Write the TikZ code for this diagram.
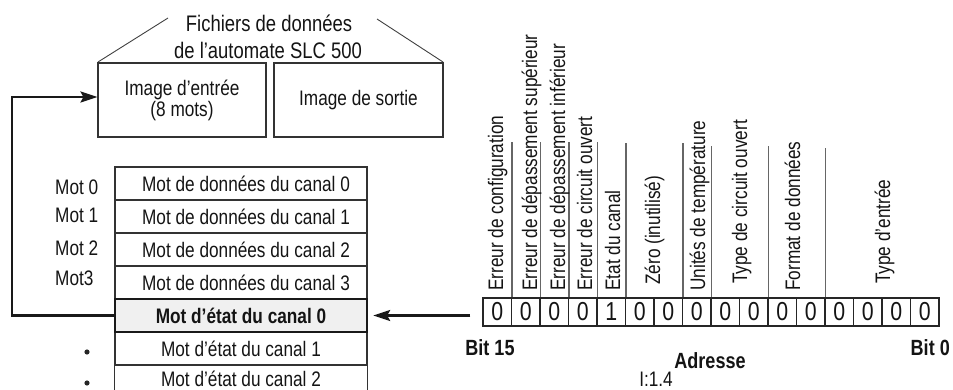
\documentclass[tikz,border=0pt]{standalone}
\usepackage{fontspec}
\setmainfont{Liberation Sans}[FakeStretch=0.82]
\usetikzlibrary{arrows.meta}
\begin{document}
\begin{tikzpicture}[x=1pt,y=-1pt,
  txt/.style={inner sep=0pt, text=black!92, font=\fontsize{21}{20}\selectfont},
  boxstyle/.style={draw=black!80, line width=1.1pt, inner sep=0pt, align=center,
     text=black!92, font=\fontsize{21}{21}\selectfont},
  rowstyle/.style={draw=black!80, line width=1.1pt, inner sep=0pt,
     minimum width=252pt, minimum height=33pt, text=black!92, font=\fontsize{21}{20}\selectfont},
  boldrow/.style={draw=black!90, line width=2.4pt, fill=gray!12, inner sep=0pt,
     minimum width=252pt, minimum height=33pt, text=black!92, font=\bfseries\fontsize{21}{20}\selectfont},
  cellstyle/.style={draw=black!85, line width=1.1pt, inner sep=0pt,
     minimum width=28.5pt, minimum height=28pt, text=black!92, font=\fontsize{26}{26}\selectfont},
  vlab/.style={rotate=90, anchor=base west, inner sep=0pt, text=black!92, font=\fontsize{21}{20}\selectfont},
  divider/.style={draw=black!60, line width=1.3pt},
  roof/.style={draw=black!75, line width=0.9pt},
  conn/.style={draw=black!90, line width=2.2pt},
  tip/.style={-{Stealth[length=17pt, width=11pt, inset=3pt]}},
  boldlab/.style={inner sep=0pt, text=black!92, font=\bfseries\fontsize{22}{22}\selectfont}
]
\useasboundingbox (0,0) rectangle (953,390);

% title and roof
\node[txt, anchor=base, font=\fontsize{22.5}{22}\selectfont] (t1) at (269,32) {Fichiers de données};
\node[txt, anchor=base, font=\fontsize{22.5}{22}\selectfont] (t2) at (268,59) {de l’automate SLC 500};
\coordinate (rl1) at (98,62);  \coordinate (rl2) at (168,18);
\coordinate (rr1) at (377,19); \coordinate (rr2) at (443,62);
\draw[roof] (rl1) -- (rl2);
\draw[roof] (rr1) -- (rr2);

% image boxes
\node[boxstyle, minimum width=168pt, minimum height=74pt] (in) at (182,100) {Image d’entrée\\(8 mots)};
\node[boxstyle, minimum width=169pt, minimum height=74pt] (out) at (358.5,100) {Image de sortie};

% table rows
\node[rowstyle] (r0) at (241,183.5) {\hspace{10pt}Mot de données du canal 0};
\node[rowstyle] (r1) at (241,216.5) {\hspace{10pt}Mot de données du canal 1};
\node[rowstyle] (r2) at (241,249.5) {\hspace{10pt}Mot de données du canal 2};
\node[rowstyle] (r3) at (241,282.5) {\hspace{10pt}Mot de données du canal 3};
\node[rowstyle] (r5) at (241,348.5) {Mot d’état du canal 1};
\node[rowstyle, draw=none, minimum height=25pt] (r6) at (241,378.5) {Mot d’état du canal 2};
\draw[draw=black!80, line width=1.1pt] (r6.north west) -- (r6.south west);
\draw[draw=black!80, line width=1.1pt] (r6.north east) -- (r6.south east);
\node[boldrow] (r4) at (241,315.5) {Mot d’état du canal 0\hspace{10pt}};

% left labels
\node[txt, anchor=west] (m0) at (55,187) {Mot 0};
\node[txt, anchor=west] (m1) at (55,215) {Mot 1};
\node[txt, anchor=west] (m2) at (55,248) {Mot 2};
\node[txt, anchor=west] (m3) at (55,278) {Mot3};
\fill[black!85] (87,352) circle (2.6pt);
\fill[black!85] (87,383) circle (2.6pt);

% bit cells
\foreach \i/\v in {0/0,1/0,2/0,3/0,4/1,5/0,6/0,7/0,8/0,9/0,10/0,11/0,12/0,13/0,14/0,15/0}{
  \node[cellstyle] (c\i) at ({497.25+28.5*\i},312) {\v};
}

% dividers
\foreach \i/\t in {0/142,1/142,2/142,3/142,4/143,6/143,7/146,9/146,11/148}{
  \draw[divider] (c\i.north east) -- (c\i.north east |- 0,\t);
}

% rotated labels
\node[vlab] (l15) at (503,291) {Erreur de configuration};
\node[vlab] (l14) at (537,291) {Erreur de dépassement supérieur};
\node[vlab] (l13) at (565,291) {Erreur de dépassement inférieur};
\node[vlab] (l12) at (592,291) {Erreur de circuit ouvert};
\node[vlab] (l11) at (620,291) {Etat du canal};
\node[vlab] (l10) at (660,285) {Zéro (inutilisé)};
\node[vlab] (l8)  at (705,291) {Unités de température};
\node[vlab] (l7)  at (747,284) {Type de circuit ouvert};
\node[vlab] (l5)  at (800,291) {Format de données};
\node[vlab] (l3)  at (890,284) {Type d’entrée};

% bottom labels
\node[boldlab] (b15) at (490,348) {Bit 15};
\node[boldlab, anchor=east] (b0) at (950,348) {Bit 0};
\node[boldlab] (adr) at (710,361) {Adresse};
\node[txt, anchor=base] (addr) at (656,386) {I:1.4};

% connectors
\coordinate (corner) at (12,97);
\draw[conn, tip] (r4.west) -| (corner) -- (in.west |- corner);
\draw[conn, tip, shorten <=12pt, shorten >=5pt] (c0.west |- r4.east) -- (r4.east);
\end{tikzpicture}
\end{document}
